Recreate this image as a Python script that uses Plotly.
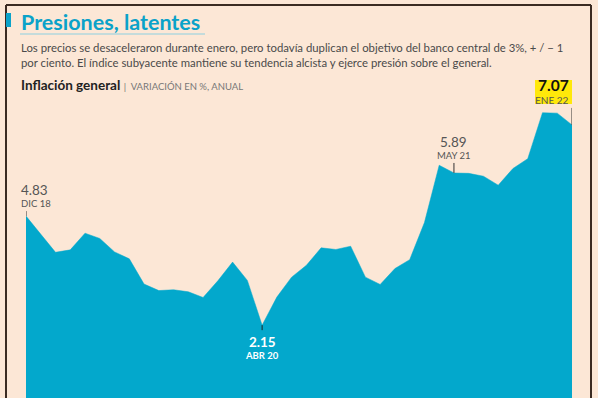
import plotly.graph_objects as go

months = ["DIC 18",
          "ENE 19", "FEB 19", "MAR 19", "ABR 19", "MAY 19", "JUN 19", "JUL 19", "AGO 19", "SEP 19", "OCT 19", "NOV 19", "DIC 19",
          "ENE 20", "FEB 20", "MAR 20", "ABR 20", "MAY 20", "JUN 20", "JUL 20", "AGO 20", "SEP 20", "OCT 20", "NOV 20", "DIC 20",
          "ENE 21", "FEB 21", "MAR 21", "ABR 21", "MAY 21", "JUN 21", "JUL 21", "AGO 21", "SEP 21", "OCT 21", "NOV 21", "DIC 21",
          "ENE 22"]
inflation = [4.83,
             4.37, 3.94, 4.00, 4.41, 4.28, 3.95, 3.78, 3.16, 3.00, 3.02, 2.97, 2.83,
             3.24, 3.70, 3.25, 2.15, 2.84, 3.33, 3.62, 4.05, 4.01, 4.09, 3.33, 3.15,
             3.54, 3.76, 4.67, 6.08, 5.89, 5.88, 5.81, 5.59, 6.00, 6.24, 7.37, 7.36,
             7.07]

W, H = 598, 398
BG = "#FCE7D6"
AREA = "#03A8CC"
TITLE_BLUE = "#0AA2C9"
FONT = "Lato"

def px(x):
    return x / W

def py(y):
    return 1 - y / H

xs = list(range(len(months)))

fig = go.Figure()
fig.add_trace(go.Scatter(
    x=xs, y=inflation, mode="lines", fill="tozeroy",
    line=dict(color=AREA, width=0.5), fillcolor=AREA,
    hoverinfo="skip", showlegend=False,
))

shapes = []
# frame
shapes.append(dict(type="line", xref="paper", yref="paper", x0=px(6), x1=px(6), y0=py(5), y1=0,
                   line=dict(color="#3b2b22", width=2)))
shapes.append(dict(type="line", xref="paper", yref="paper", x0=px(591), x1=px(591), y0=py(5), y1=0,
                   line=dict(color="#3b2b22", width=2)))
shapes.append(dict(type="line", xref="paper", yref="paper", x0=px(6), x1=px(591), y0=py(5), y1=py(5),
                   line=dict(color="#3b2b22", width=2)))
# title marker and underline
shapes.append(dict(type="rect", xref="paper", yref="paper", x0=px(6), x1=px(11), y0=py(27), y1=py(13),
                   fillcolor=TITLE_BLUE, line=dict(width=0)))
shapes.append(dict(type="line", xref="paper", yref="paper", x0=px(20), x1=px(205), y0=py(34), y1=py(34),
                   line=dict(color="#8ccfe0", width=1)))

i_dic18 = months.index("DIC 18")
i_abr20 = months.index("ABR 20")
i_may21 = months.index("MAY 21")
i_ene22 = months.index("ENE 22")

# yellow highlight box behind last value
shapes.append(dict(type="rect", xref="x", yref="y", xsizemode="pixel", ysizemode="pixel",
                   xanchor=xs[i_ene22], yanchor=inflation[i_ene22],
                   x0=-37, x1=0, y0=21, y1=45, fillcolor="#FFE80A", line=dict(width=0), layer="below"))

# tick marks near labelled points
def tick(i, y0, y1, color):
    shapes.append(dict(type="line", xref="x", yref="y", ysizemode="pixel", yanchor=inflation[i],
                       x0=xs[i], x1=xs[i], y0=y0, y1=y1, line=dict(color=color, width=1)))

tick(i_dic18, 0, 5, "#333333")
tick(i_abr20, 0, -5, "#222222")
tick(i_may21, 0, 10, "#333333")
tick(i_ene22, 0, 17, "#333333")

ann = []
ann.append(dict(xref="paper", yref="paper", x=px(19), y=py(22), xanchor="left", yanchor="middle",
                text="<b>Presiones, latentes</b>", showarrow=False,
                font=dict(family=FONT, size=21.5, color=TITLE_BLUE)))
ann.append(dict(xref="paper", yref="paper", x=px(19), y=py(47), xanchor="left", yanchor="middle",
                text="Los precios se desaceleraron durante enero, pero todavía duplican el objetivo del banco central de 3%, + / − 1",
                showarrow=False, font=dict(family=FONT, size=11.35, color="#4a4a4a")))
ann.append(dict(xref="paper", yref="paper", x=px(19), y=py(63), xanchor="left", yanchor="middle",
                text="por ciento. El índice subyacente mantiene su tendencia alcista y ejerce presión sobre el general.",
                showarrow=False, font=dict(family=FONT, size=11.35, color="#4a4a4a")))
ann.append(dict(xref="paper", yref="paper", x=px(19), y=py(85), xanchor="left", yanchor="middle",
                text="<b>Inflación general</b> <span style='font-size:9.5px;color:#777777'>|  VARIACIÓN EN %, ANUAL</span>",
                showarrow=False, font=dict(family=FONT, size=13.5, color="#222222")))

def label(i, big, small, dx, y_big, y_small, anchor, color, bold_small=False, bigsize=13.5):
    ann.append(dict(x=xs[i], y=inflation[i], xref="x", yref="y", xanchor=anchor, yanchor="middle",
                    xshift=dx, yshift=y_big, text=big, showarrow=False,
                    font=dict(family=FONT, size=bigsize, color=color)))
    ann.append(dict(x=xs[i], y=inflation[i], xref="x", yref="y", xanchor=anchor, yanchor="middle",
                    xshift=dx, yshift=y_small, text=("<b>%s</b>" % small) if bold_small else small,
                    showarrow=False, font=dict(family=FONT, size=9.5, color=color)))

label(i_dic18, "%.2f" % inflation[i_dic18], months[i_dic18], -7, 26, 13, "left", "#555555")
label(i_abr20, "<b>%.2f</b>" % inflation[i_abr20], months[i_abr20], 0, -17, -30, "center", "#FFFFFF", True)
label(i_may21, "%.2f" % inflation[i_may21], months[i_may21], 0, 31, 17, "center", "#555555")

ann.append(dict(x=xs[i_ene22], y=inflation[i_ene22], xref="x", yref="y", xanchor="right", yanchor="middle",
                yshift=40, xshift=-1, showarrow=False, text="<b>%.2f</b>" % inflation[i_ene22],
                font=dict(family=FONT, size=15.5, color="#111111")))
ann.append(dict(x=xs[i_ene22], y=inflation[i_ene22], xref="x", yref="y", xanchor="right", yanchor="middle",
                yshift=25, xshift=-1, showarrow=False, text=months[i_ene22],
                font=dict(family=FONT, size=10, color="#555555")))

fig.update_layout(
    width=W, height=H,
    margin=dict(l=0, r=0, t=0, b=0),
    paper_bgcolor=BG, plot_bgcolor="rgba(0,0,0,0)",
    xaxis=dict(domain=[px(26), px(572)], range=[0, len(months) - 1], visible=False, fixedrange=True),
    yaxis=dict(domain=[0, 1], range=[0.36, 10.14], visible=False, fixedrange=True),
    shapes=shapes, annotations=ann,
    showlegend=False,
)

fig.write_html("out.html", config={"displayModeBar": False},
               post_script="document.body.style.margin='0';document.body.style.background='%s';" % BG)
